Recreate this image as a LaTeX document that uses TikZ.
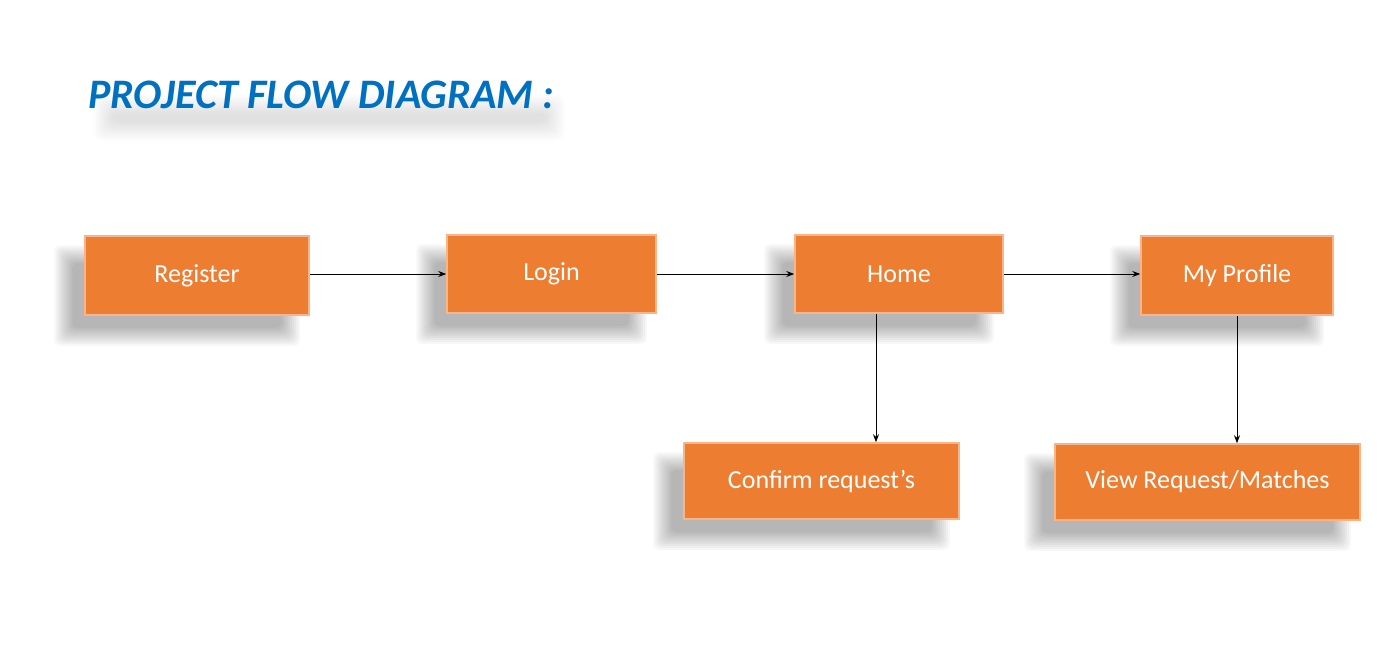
\documentclass[tikz,border=0pt]{standalone}
\usepackage{fontspec}
\setmainfont{Carlito}
\usetikzlibrary{arrows.meta}
\definecolor{boxorange}{HTML}{ED7D31}
\definecolor{boxedge}{HTML}{F6B58A}
\definecolor{titleblue}{HTML}{0070C0}
\pgfdeclarelayer{bg}
\pgfsetlayers{bg,main}
\tikzset{
  flowbox/.style={rectangle, fill=boxorange, draw=boxedge, line width=1.5pt,
    text=white, font=\fontsize{26}{30}\selectfont, inner sep=0pt},
  flowarrow/.style={-{Stealth[length=8pt,width=6pt]}, line width=1pt, black},
  shadowlayer/.style={fill=black, opacity=0.03, rounded corners=6pt}
}
\newcommand\boxshade[1]{%
  \begin{pgfonlayer}{bg}
  \foreach \e in {10,8,...,-8}{%
    \fill[shadowlayer] ([shift={(-20-\e,20-\e)}]#1.north west) rectangle ([shift={(-20+\e,20+\e)}]#1.south east);
  }
  \end{pgfonlayer}}
\begin{document}
\begin{tikzpicture}[x=1pt,y=-1pt]
\useasboundingbox (0,0) rectangle (1377,646);
\begin{pgfonlayer}{bg}
\fill[white] (0,0) rectangle (1377,646);
\end{pgfonlayer}
\node[anchor=base west, inner sep=0pt, text=titleblue, font=\fontsize{42}{46}\selectfont\bfseries\itshape] (title) at (88,108) {PROJECT FLOW DIAGRAM :};
\begin{pgfonlayer}{bg}
\foreach \e in {14,12,...,-4}{%
  \fill[fill=black, opacity=0.012, rounded corners=8pt] ([shift={(20-\e,0-\e)}]title.south west) rectangle ([shift={(-4+\e,18+\e)}]title.south east);
}
\end{pgfonlayer}
\node[flowbox, minimum width=224pt, minimum height=79pt] (reg) at (197,275.5) {Register};
\node[flowbox, minimum width=209pt, minimum height=78pt] (login) at (551.5,274) {Login};
\node[flowbox, minimum width=208pt, minimum height=78pt] (home) at (899,274) {Home};
\node[flowbox, minimum width=192pt, minimum height=79pt] (prof) at (1237,275.5) {My Profile};
\node[flowbox, minimum width=275pt, minimum height=76pt] (conf) at (821.5,481) {Confirm request’s};
\node[flowbox, minimum width=305pt, minimum height=76pt] (view) at (1207.5,482) {View Request/Matches};
\boxshade{reg}\boxshade{login}\boxshade{home}\boxshade{prof}\boxshade{conf}\boxshade{view}
\draw[flowarrow] (reg.east |- login.west) -- (login.west);
\draw[flowarrow] (login.east) -- (home.west);
\draw[flowarrow] (home.east) -- (home.east -| prof.west);
\draw[flowarrow] ([xshift=-23pt]home.south) -- ([xshift=-23pt]home.south |- conf.north);
\draw[flowarrow] (prof.south) -- (prof.south |- view.north);
\end{tikzpicture}
\end{document}
